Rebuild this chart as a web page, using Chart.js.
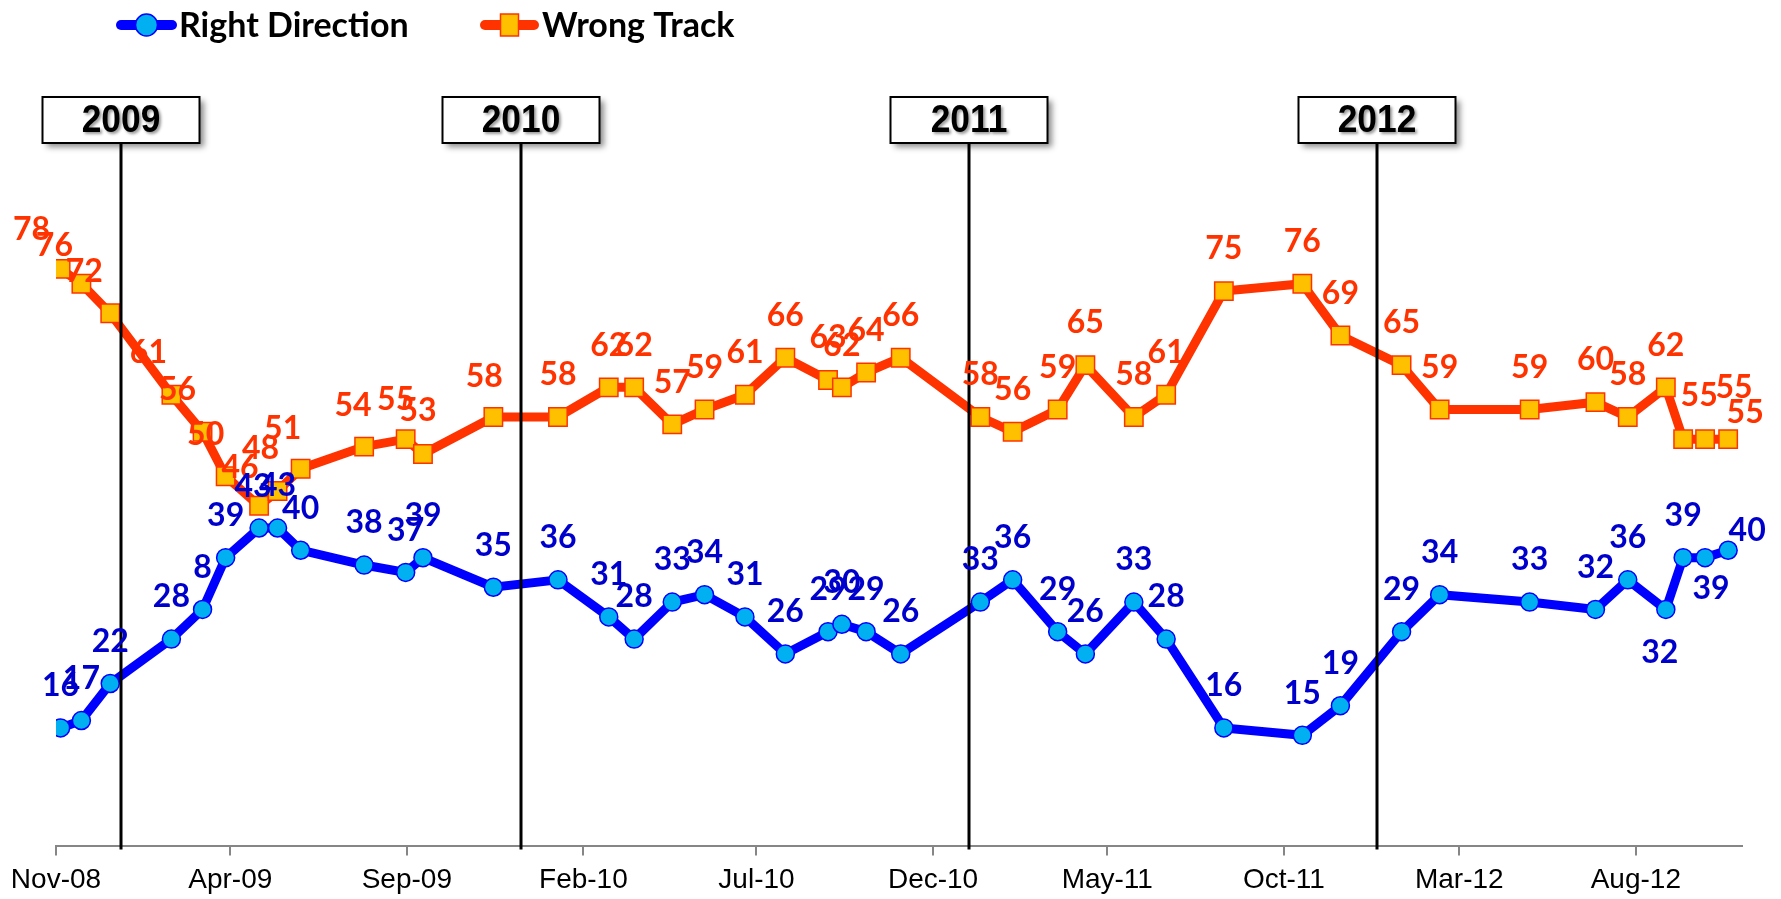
<!DOCTYPE html>
<html>
<head>
<meta charset="utf-8">
<script src="https://cdn.jsdelivr.net/npm/chart.js@4.4.0/dist/chart.umd.min.js"></script>
<style>
html,body{margin:0;padding:0;background:#ffffff;overflow:hidden;}
#wrap{width:1781px;height:899px;position:relative;overflow:hidden;}
canvas{display:block;}
</style>
</head>
<body>
<div id="wrap"><canvas id="c" width="1781" height="905"></canvas></div>
<script>
// ---------- data ----------
const pollDates = [
  '2008-11-05','2008-11-23','2008-12-18','2009-02-09','2009-03-08','2009-03-28','2009-04-26',
  '2009-05-12','2009-06-01','2009-07-26','2009-08-31','2009-09-15','2009-11-15',
  '2010-01-10','2010-02-23','2010-03-17','2010-04-19','2010-05-17','2010-06-21','2010-07-26',
  '2010-09-01','2010-09-13','2010-10-04','2010-11-03',
  '2011-01-11','2011-02-08','2011-03-19','2011-04-12','2011-05-24','2011-06-21','2011-08-10',
  '2011-10-17','2011-11-19',
  '2012-01-11','2012-02-13','2012-05-01','2012-06-27','2012-07-25','2012-08-27','2012-09-11',
  '2012-09-30','2012-10-20'
];
const rightDirection = [
  16,17,22,28,32,39,43,43,40,38,37,39,35,
  36,31,28,33,34,31,26,29,30,29,26,
  33,36,29,26,33,28,16,15,19,
  29,34,33,32,36,32,39,39,40
];
const wrongTrack = [
  78,76,72,61,56,50,46,48,51,54,55,53,58,
  58,62,62,57,59,61,66,63,62,64,66,
  58,56,59,65,58,61,75,76,69,
  65,59,59,60,58,62,55,55,55
];
// label text shown in the picture where it differs from the value
const rightLabelText = {4: '8'};

const axisStart = '2008-11-01';
const axisEnd = '2012-11-01';
const tickDates = ['2008-11-01','2009-04-01','2009-09-01','2010-02-01','2010-07-01',
                   '2010-12-01','2011-05-01','2011-10-01','2012-03-01','2012-08-01'];
const tickLabels = ['Nov-08','Apr-09','Sep-09','Feb-10','Jul-10','Dec-10','May-11','Oct-11','Mar-12','Aug-12'];

const yearLabels = ['2009','2010','2011','2012'];
const yearLineDates = ['2008-12-27','2009-12-09','2011-01-01','2011-12-21'];

const seriesNames = ['Right Direction','Wrong Track'];

// ---------- helpers ----------
function dayOf(s){
  return (Date.parse(s+'T00:00:00Z') - Date.parse(axisStart+'T00:00:00Z'))/86400000;
}

const BLUE_LINE = '#0000FF', BLUE_FILL = '#00B0F0', BLUE_TEXT = '#0000CC';
const ORANGE_LINE = '#FF3300', ORANGE_FILL = '#FFC000', ORANGE_TEXT = '#FF3300';
const LABEL_FONT = 'bold 32px Lato, "Open Sans", sans-serif';

// label offsets (pixels) relative to the point, default: centred above
const labelOffsets = [
  { 6:{dx:-6,dy:-41}, 38:{dx:-6,dy:43}, 40:{dx:6,dy:31}, 41:{dx:19,dy:-20} },
  { 0:{dx:-29,dy:-39}, 1:{dx:-27,dy:-38}, 2:{dx:-26,dy:-42}, 3:{dx:-23,dy:-42}, 4:{dx:-25,dy:-42},
    5:{dx:-20,dy:-42}, 6:{dx:-19,dy:-38}, 7:{dx:-17,dy:-42}, 8:{dx:-18,dy:-40}, 9:{dx:-11,dy:-41},
    10:{dx:-10,dy:-39}, 11:{dx:-5,dy:-43}, 12:{dx:-9,dy:-40},
    39:{dx:16,dy:-43}, 40:{dx:29,dy:-51}, 41:{dx:17,dy:-26} }
];

const valueLabelPlugin = {
  id:'valueLabels',
  afterDatasetsDraw(chart){
    const ctx = chart.ctx;
    ctx.save();
    ctx.font = LABEL_FONT;
    ctx.textAlign = 'center';
    ctx.textBaseline = 'middle';
    [1,0].forEach(di => {
      const meta = chart.getDatasetMeta(di);
      const vals = chart.data.datasets[di].data;
      ctx.fillStyle = di === 0 ? BLUE_TEXT : ORANGE_TEXT;
      meta.data.forEach((pt, i) => {
        const off = labelOffsets[di][i] || {dx:0, dy:-42};
        let txt = String(vals[i].y);
        if (di === 0 && rightLabelText[i] !== undefined) txt = rightLabelText[i];
        ctx.fillText(txt, pt.x + off.dx, pt.y + off.dy);
      });
    });
    ctx.restore();
  }
};

const yearMarkerPlugin = {
  id:'yearMarkers',
  afterDatasetsDraw(chart){
    const ctx = chart.ctx;
    const xs = chart.scales.x;
    const area = chart.chartArea;
    ctx.save();
    yearLineDates.forEach((d, i) => {
      const x = Math.round(xs.getPixelForValue(dayOf(d)));
      const bw = 157, bh = 46, top = 97;
      ctx.strokeStyle = '#000';
      ctx.lineWidth = 3;
      ctx.beginPath();
      ctx.moveTo(x, top + bh);
      ctx.lineTo(x, area.bottom + 3);
      ctx.stroke();
      ctx.save();
      ctx.shadowColor = 'rgba(0,0,0,0.45)';
      ctx.shadowBlur = 6;
      ctx.shadowOffsetX = 4;
      ctx.shadowOffsetY = 4;
      ctx.fillStyle = '#fff';
      ctx.fillRect(x - bw/2, top, bw, bh);
      ctx.restore();
      ctx.strokeStyle = '#000';
      ctx.lineWidth = 2;
      ctx.strokeRect(x - bw/2, top, bw, bh);
      ctx.save();
      ctx.translate(x, top + bh/2 + 2);
      ctx.scale(0.93, 1);
      ctx.font = 'bold 38px "Liberation Sans", Arial, sans-serif';
      ctx.textAlign = 'center';
      ctx.textBaseline = 'middle';
      ctx.shadowColor = 'rgba(0,0,0,0.4)';
      ctx.shadowBlur = 3;
      ctx.shadowOffsetX = 2;
      ctx.shadowOffsetY = 2;
      ctx.fillStyle = '#000';
      ctx.fillText(yearLabels[i], 0, 0);
      ctx.restore();
    });
    ctx.restore();
  }
};

const legendPlugin = {
  id:'customLegend',
  afterDraw(chart){
    const ctx = chart.ctx;
    const items = [
      {x0:116, x1:177, text:seriesNames[0], tx:179, line:BLUE_LINE, fill:BLUE_FILL, shape:'circle'},
      {x0:480, x1:539, text:seriesNames[1], tx:542, line:ORANGE_LINE, fill:ORANGE_FILL, shape:'rect'}
    ];
    const y = 25;
    ctx.save();
    items.forEach(it => {
      ctx.strokeStyle = it.line;
      ctx.lineWidth = 10;
      ctx.lineCap = 'round';
      ctx.beginPath();
      ctx.moveTo(it.x0 + 5, y);
      ctx.lineTo(it.x1 - 5, y);
      ctx.stroke();
      const cx = (it.x0 + it.x1)/2;
      ctx.fillStyle = it.fill;
      ctx.lineWidth = 1.5;
      ctx.beginPath();
      if (it.shape === 'circle') ctx.arc(cx, y, 11, 0, Math.PI*2);
      else ctx.rect(cx - 9, y - 11, 18, 22);
      ctx.fill();
      ctx.stroke();
      ctx.fillStyle = '#000';
      ctx.font = 'bold 34px Lato, "Open Sans", sans-serif';
      ctx.textAlign = 'left';
      ctx.textBaseline = 'middle';
      ctx.fillText(it.text, it.tx, y + 1);
    });
    ctx.restore();
  }
};

const ctx = document.getElementById('c').getContext('2d');
new Chart(ctx, {
  type:'line',
  data:{
    datasets:[
      {
        label: seriesNames[0],
        data: pollDates.map((d,i) => ({x: dayOf(d), y: rightDirection[i]})),
        borderColor: BLUE_LINE, borderWidth: 9, tension: 0,
        pointStyle:'circle', pointRadius: 9, pointHoverRadius: 9,
        pointBackgroundColor: BLUE_FILL, pointBorderColor: BLUE_LINE, pointBorderWidth: 1.5,
        fill:false
      },
      {
        label: seriesNames[1],
        data: pollDates.map((d,i) => ({x: dayOf(d), y: wrongTrack[i]})),
        borderColor: ORANGE_LINE, borderWidth: 9, tension: 0,
        pointStyle:'rect', pointRadius: 13, pointHoverRadius: 13,
        pointBackgroundColor: ORANGE_FILL, pointBorderColor: ORANGE_LINE, pointBorderWidth: 1.5,
        fill:false
      }
    ]
  },
  options:{
    responsive:false,
    animation:false,
    devicePixelRatio:1,
    layout:{padding:{left:56, right:39, top:106, bottom:0}},
    plugins:{legend:{display:false}, tooltip:{enabled:false}, title:{display:false}},
    scales:{
      x:{
        type:'linear',
        min: 0,
        max: dayOf(axisEnd),
        afterBuildTicks(scale){ scale.ticks = tickDates.map(d => ({value: dayOf(d)})); },
        ticks:{
          autoSkip:false, maxRotation:0, minRotation:0,
          padding:8,
          color:'#000',
          font:{family:'"Liberation Sans", Arial, sans-serif', size:28},
          callback(value){ const i = tickDates.findIndex(d => dayOf(d) === value); return i >= 0 ? tickLabels[i] : ''; }
        },
        grid:{drawOnChartArea:false, drawTicks:true, tickLength:9, color:'#868686', lineWidth:2},
        border:{display:true, color:'#868686', width:2}
      },
      y:{display:false, min:0, max:100}
    }
  },
  plugins:[yearMarkerPlugin, valueLabelPlugin, legendPlugin]
});
</script>
</body>
</html>
